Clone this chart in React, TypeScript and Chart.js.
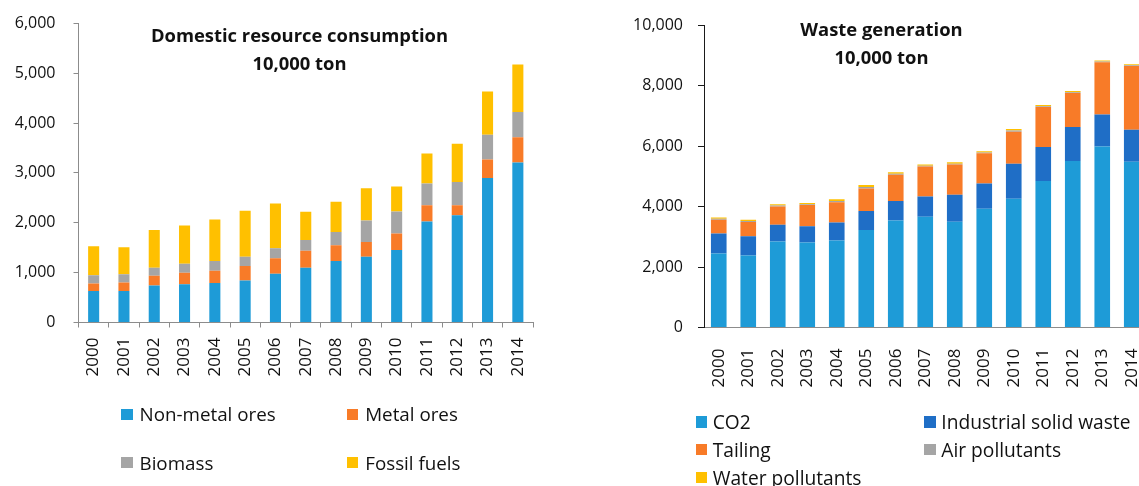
import React, { useEffect, useRef } from 'react';
import { Chart, registerables } from 'chart.js';

Chart.register(...registerables);

const YEARS = ['2000', '2001', '2002', '2003', '2004', '2005', '2006', '2007', '2008', '2009', '2010', '2011', '2012', '2013', '2014'];

// Domestic resource consumption (10,000 ton)
const NON_METAL_ORES = [633, 633, 740, 767, 793, 840, 980, 1100, 1233, 1320, 1453, 2027, 2153, 2900, 3207];
const METAL_ORES = [147, 167, 200, 233, 247, 293, 307, 340, 314, 293, 334, 326, 200, 367, 506];
const BIOMASS = [167, 167, 160, 180, 193, 187, 200, 213, 266, 434, 440, 434, 467, 500, 507];
const FOSSIL_FUELS = [580, 540, 753, 767, 834, 920, 900, 567, 607, 646, 500, 600, 767, 866, 953];

// Waste generation (10,000 ton)
const CO2 = [2450, 2385, 2845, 2815, 2880, 3230, 3540, 3670, 3505, 3935, 4265, 4855, 5515, 5990, 5485];
const INDUSTRIAL_SOLID_WASTE = [660, 640, 560, 540, 595, 625, 650, 670, 890, 835, 1155, 1120, 1120, 1065, 1065];
const TAILING = [460, 470, 605, 700, 670, 750, 865, 990, 1000, 1000, 1065, 1330, 1130, 1725, 2110];
const AIR_POLLUTANTS = [30, 30, 30, 25, 40, 45, 35, 25, 30, 25, 35, 25, 25, 25, 20];
const WATER_POLLUTANTS = [45, 45, 45, 40, 60, 70, 50, 40, 45, 40, 50, 40, 40, 40, 35];

const LEFT_TITLE = ['Domestic resource consumption', '10,000 ton'];
const RIGHT_TITLE = ['Waste generation', '10,000 ton'];

const BLUE = '#1E9BD7';
const ORANGE = '#F87B28';
const GRAY = '#A5A5A5';
const YELLOW = '#FFC000';
const DARK_BLUE = '#1F6EC6';

const FONT = '"Open Sans", Lato, sans-serif';
const TEXT = '#111111';

const LEFT_SERIES = [
  { label: 'Non-metal ores', data: NON_METAL_ORES, color: BLUE },
  { label: 'Metal ores', data: METAL_ORES, color: ORANGE },
  { label: 'Biomass', data: BIOMASS, color: GRAY },
  { label: 'Fossil fuels', data: FOSSIL_FUELS, color: YELLOW },
];

const RIGHT_SERIES = [
  { label: 'CO2', data: CO2, color: BLUE },
  { label: 'Industrial solid waste', data: INDUSTRIAL_SOLID_WASTE, color: DARK_BLUE },
  { label: 'Tailing', data: TAILING, color: ORANGE },
  { label: 'Air pollutants', data: AIR_POLLUTANTS, color: GRAY },
  { label: 'Water pollutants', data: WATER_POLLUTANTS, color: YELLOW },
];

type Series = { label: string; data: number[]; color: string };

type ChartSpec = {
  series: Series[];
  max: number;
  step: number;
  barPct: number;
  yWidth: number;
  xHeight: number;
  padTop: number;
  padRight: number;
  yBorder: string;
  xBorder: string;
  yTickLen: number;
  yTickPad: number;
  xTicks: boolean;
  xTickPad: number;
};

function useBarChart(ref: React.RefObject<HTMLCanvasElement | null>, spec: ChartSpec) {
  useEffect(() => {
    if (!ref.current) return;
    const chart = new Chart(ref.current, {
      type: 'bar',
      data: {
        labels: YEARS,
        datasets: spec.series.map((s) => ({
          label: s.label,
          data: s.data,
          backgroundColor: s.color,
          borderWidth: 0,
          barPercentage: spec.barPct,
          categoryPercentage: 1,
        })),
      },
      options: {
        animation: false,
        responsive: false,
        maintainAspectRatio: false,
        layout: { padding: { top: spec.padTop, right: spec.padRight, left: 0, bottom: 0 } },
        plugins: { legend: { display: false }, title: { display: false }, tooltip: { enabled: false } },
        scales: {
          x: {
            stacked: true,
            offset: true,
            grid: {
              display: spec.xTicks,
              offset: true,
              drawOnChartArea: false,
              drawTicks: true,
              tickLength: 5,
              tickColor: spec.xBorder,
              color: spec.xBorder,
            },
            border: { display: true, color: spec.xBorder, width: 1 },
            ticks: {
              minRotation: 90,
              maxRotation: 90,
              autoSkip: false,
              padding: spec.xTickPad,
              color: TEXT,
              font: { family: FONT, size: 17 },
            },
            afterFit: (scale: any) => {
              scale.height = spec.xHeight;
              scale.paddingLeft = 0;
              scale.paddingRight = 0;
            },
          },
          y: {
            stacked: true,
            min: 0,
            max: spec.max,
            grid: {
              display: true,
              drawOnChartArea: false,
              drawTicks: true,
              tickLength: spec.yTickLen,
              tickColor: spec.yBorder,
              color: spec.yBorder,
            },
            border: { display: true, color: spec.yBorder, width: 1 },
            ticks: {
              stepSize: spec.step,
              padding: spec.yTickPad,
              color: TEXT,
              font: { family: FONT, size: 16 },
              callback: (v: any) => Number(v).toLocaleString('en-US'),
            },
            afterFit: (scale: any) => {
              scale.width = spec.yWidth;
              scale.paddingTop = 0;
              scale.paddingBottom = 0;
            },
          },
        },
      },
    });
    return () => chart.destroy();
  }, []);
}

function Title({ lines, cx, y1, y2 }: { lines: string[]; cx: number; y1: number; y2: number }) {
  const style = (y: number): React.CSSProperties => ({
    position: 'absolute',
    left: cx,
    top: y,
    transform: 'translate(-50%, -50%)',
    whiteSpace: 'nowrap',
    fontFamily: FONT,
    fontWeight: 700,
    fontSize: 18.4,
    lineHeight: '22px',
    color: TEXT,
  });
  return (
    <>
      <div style={style(y1)}>{lines[0]}</div>
      <div style={style(y2)}>{lines[1]}</div>
    </>
  );
}

function LegendItem({ s, x, y, size, gap }: { s: Series; x: number; y: number; size: number; gap: number }) {
  return (
    <div
      style={{
        position: 'absolute',
        left: x,
        top: y - 13,
        height: 26,
        display: 'flex',
        alignItems: 'center',
        whiteSpace: 'nowrap',
        fontFamily: FONT,
        fontSize: size,
        color: TEXT,
      }}
    >
      <span style={{ display: 'inline-block', width: 11.5, height: 11.5, background: s.color, marginRight: gap }} />
      <span>{s.label}</span>
    </div>
  );
}

export default function App() {
  const leftRef = useRef<HTMLCanvasElement | null>(null);
  const rightRef = useRef<HTMLCanvasElement | null>(null);

  useBarChart(leftRef, {
    series: LEFT_SERIES,
    max: 6000,
    step: 1000,
    barPct: 0.365,
    yWidth: 78.5,
    xHeight: 486 - 322.5,
    padTop: 23.3,
    padRight: 27,
    yBorder: '#8C8C8C',
    xBorder: '#8C8C8C',
    yTickLen: 5,
    yTickPad: 18,
    xTicks: true,
    xTickPad: 10,
  });

  useBarChart(rightRef, {
    series: RIGHT_SERIES,
    max: 10000,
    step: 2000,
    barPct: 0.53,
    yWidth: 104,
    xHeight: 486 - 327.5,
    padTop: 25.5,
    padRight: 13.5,
    yBorder: '#1A1A1A',
    xBorder: '#8C8C8C',
    yTickLen: 6,
    yTickPad: 15,
    xTicks: false,
    xTickPad: 16,
  });

  const leftLegendPos = [
    [121, 414.3],
    [346.7, 414.3],
    [121, 462.7],
    [346.7, 462.7],
  ];
  const rightLegendPos = [
    [695.7, 421.8],
    [924.3, 421.8],
    [695.7, 449.3],
    [924.3, 449.3],
    [695.7, 477.7],
  ];

  return (
    <div
      style={{
        position: 'fixed',
        left: 0,
        top: 0,
        width: 1139,
        height: 486,
        overflow: 'hidden',
        background: '#ffffff',
      }}
    >
      <canvas ref={leftRef} width={560} height={486} style={{ position: 'absolute', left: 0, top: 0, width: 560, height: 486 }} />
      <canvas ref={rightRef} width={560} height={486} style={{ position: 'absolute', left: 600, top: 0, width: 560, height: 486 }} />
      <Title lines={LEFT_TITLE} cx={299.5} y1={35} y2={63} />
      <Title lines={RIGHT_TITLE} cx={881.5} y1={29.2} y2={56.7} />
      {LEFT_SERIES.map((s, i) => (
        <LegendItem key={s.label} s={s} x={leftLegendPos[i][0]} y={leftLegendPos[i][1]} size={18.8} gap={7} />
      ))}
      {RIGHT_SERIES.map((s, i) => (
        <LegendItem key={s.label} s={s} x={rightLegendPos[i][0]} y={rightLegendPos[i][1]} size={19.2} gap={5.5} />
      ))}
    </div>
  );
}
